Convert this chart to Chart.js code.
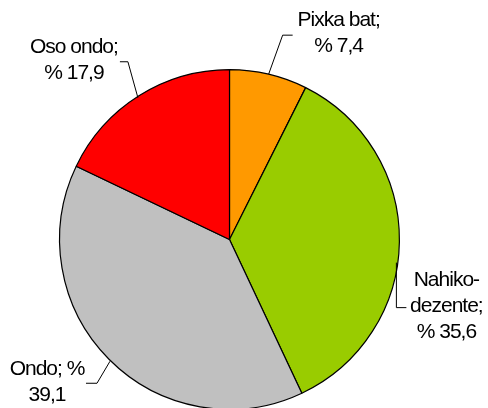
<!DOCTYPE html>
<html>
<head>
<meta charset="utf-8">
<script src="https://cdn.jsdelivr.net/npm/chart.js@4"></script>
<style>
  html, body { margin: 0; padding: 0; background: #fff; overflow: hidden; }
  #wrap { position: relative; width: 488px; height: 420px; }
</style>
</head>
<body>
<div id="wrap"><canvas id="chart"></canvas></div>
<script>
const categories = ["Pixka bat", "Nahiko-dezente", "Ondo", "Oso ondo"];
const values = [7.4, 35.6, 39.1, 17.9];
const colors = ["#FF9900", "#99CC00", "#C0C0C0", "#FF0000"];

// label placement relative to the point on the slice edge at mid angle
const labelLayout = [
  { maxW: 86, text: [70, -54], line: [[0, 0], [14, -39], [24, -39]] },
  { maxW: 82, text: [47, 39], line: [[-3, 21], [-3, 66], [7, 66]] },
  { maxW: 84, text: [-62, 10], line: [[1, 2], [-12, 24], [-23, 24]] },
  { maxW: 96, text: [-65, -49], line: [[-1, 2], [-11, -34], [-19, -34]] }
];

function wrapText(ctx, str, maxW) {
  // split on spaces, and keep hyphens as break points
  const tokens = [];
  str.split(" ").forEach((w, i, arr) => {
    const parts = w.split(/(?<=-)/);
    parts.forEach((p, j) => tokens.push({ t: p, sp: j === parts.length - 1 && i < arr.length - 1 }));
  });
  const lines = [];
  let cur = "";
  tokens.forEach(tok => {
    const test = cur + tok.t;
    if (cur && ctx.measureText(test.trim()).width > maxW) {
      lines.push(cur.trim());
      cur = tok.t + (tok.sp ? " " : "");
    } else {
      cur = test + (tok.sp ? " " : "");
    }
  });
  if (cur.trim()) lines.push(cur.trim());
  return lines;
}

const sliceLabels = {
  id: "sliceLabels",
  afterDatasetsDraw(chart) {
    const ctx = chart.ctx;
    const meta = chart.getDatasetMeta(0);
    ctx.save();
    ctx.font = "21px 'Liberation Sans', Arial, sans-serif";
    if ("letterSpacing" in ctx) ctx.letterSpacing = "-1px";
    ctx.fillStyle = "#000";
    ctx.strokeStyle = "#000";
    ctx.lineWidth = 1;
    ctx.textAlign = "center";
    ctx.textBaseline = "middle";
    meta.data.forEach((arc, i) => {
      const p = arc.getProps(["x", "y", "startAngle", "endAngle", "outerRadius"], true);
      const mid = (p.startAngle + p.endAngle) / 2;
      const ex = p.x + p.outerRadius * Math.cos(mid);
      const ey = p.y + p.outerRadius * Math.sin(mid);
      const lay = labelLayout[i];
      ctx.beginPath();
      lay.line.forEach((pt, k) => {
        if (k === 0) ctx.moveTo(ex + pt[0], ey + pt[1]);
        else ctx.lineTo(ex + pt[0], ey + pt[1]);
      });
      ctx.stroke();
      const str = categories[i] + "; % " + values[i].toFixed(1).replace(".", ",");
      const lines = wrapText(ctx, str, lay.maxW);
      const lh = 26;
      const cx = ex + lay.text[0];
      const cy = ey + lay.text[1];
      lines.forEach((ln, k) => {
        ctx.fillText(ln, cx, cy + k * lh);
      });
    });
    ctx.restore();
  }
};

new Chart(document.getElementById("chart"), {
  type: "pie",
  data: {
    labels: categories,
    datasets: [{
      data: values,
      backgroundColor: colors,
      borderColor: "#000",
      borderWidth: 1.2
    }]
  },
  options: {
    responsive: true,
    maintainAspectRatio: false,
    animation: false,
    layout: { padding: { left: 59, right: 88, top: 69, bottom: 10 } },
    plugins: {
      legend: { display: false },
      tooltip: { enabled: false }
    }
  },
  plugins: [sliceLabels]
});
</script>
</body>
</html>
